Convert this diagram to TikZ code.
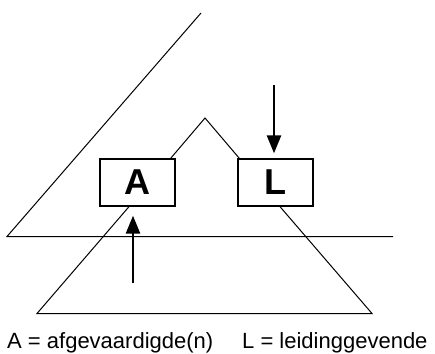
\documentclass[tikz,border=0pt]{standalone}
\usepackage{fontspec}
\setmainfont{Liberation Sans}
\usetikzlibrary{arrows.meta,calc}
\tikzset{
  thinline/.style={line width=1pt, line join=miter},
  labelbox/.style={draw, line width=1.3pt, minimum width=75pt, minimum height=47pt, inner sep=0pt, font=\fontsize{36}{36}\selectfont\bfseries},
  bigarrow/.style={line width=2.6pt, -{Triangle[width=14pt,length=18pt]}},
  legend/.style={font=\fontsize{22}{22}\selectfont, inner sep=0pt, anchor=base west}
}
\begin{document}
\begin{tikzpicture}[x=1pt,y=-1pt]
\useasboundingbox (0,0) rectangle (435,353);
% boxes
\node[labelbox] (A) at (137.5,182.5) {\raisebox{1.5pt}{A}};
\node[labelbox] (L) at (275.5,182.5) {\raisebox{1.5pt}{L}};
% coordinates
\coordinate (top) at (201,13);
\coordinate (lc) at (7,236.5);
\coordinate (rc) at (393,236.5);
\coordinate (peak) at (205,118);
\coordinate (bl) at (37,313.5);
\coordinate (br) at (372,313.5);
\coordinate (s1) at (274,85);
\coordinate (s2) at (133,283);
% big triangle outline
\draw[thinline] (top) -- (lc) -- (rc);
% roof between boxes
\draw[thinline] ([xshift=-5pt]A.north east) -- (peak) -- ([xshift=2pt]L.north west);
% lower triangle
\draw[thinline] ([xshift=-8.5pt]A.south) -- (bl) -- (br) -- ([xshift=4.5pt]L.south);
% arrows
\draw[bigarrow] (s1) -- ($(L.north)+(-1.5,-5)$);
\draw[bigarrow] (s2) -- ($(A.south)+(-4.5,9)$);
% legend
\node[legend] (la) at (7,348) {A = afgevaardigde(n)};
\node[legend] (ll) at (242,348) {L = leidinggevende};
\end{tikzpicture}
\end{document}
